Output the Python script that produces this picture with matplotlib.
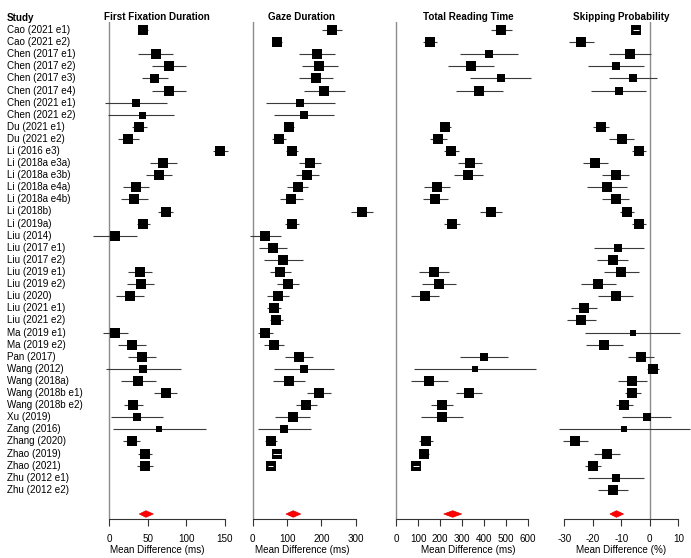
import numpy as np
import matplotlib
matplotlib.use("Agg")
import matplotlib.pyplot as plt
from matplotlib.patches import Polygon
from matplotlib.transforms import blended_transform_factory

nan = np.nan

studies = [
    "Cao (2021 e1)", "Cao (2021 e2)", "Chen (2017 e1)", "Chen (2017 e2)",
    "Chen (2017 e3)", "Chen (2017 e4)", "Chen (2021 e1)", "Chen (2021 e2)",
    "Du (2021 e1)", "Du (2021 e2)", "Li (2016 e3)", "Li (2018a e3a)",
    "Li (2018a e3b)", "Li (2018a e4a)", "Li (2018a e4b)", "Li (2018b)",
    "Li (2019a)", "Liu (2014)", "Liu (2017 e1)", "Liu (2017 e2)",
    "Liu (2019 e1)", "Liu (2019 e2)", "Liu (2020)", "Liu (2021 e1)",
    "Liu (2021 e2)", "Ma (2019 e1)", "Ma (2019 e2)", "Pan (2017)",
    "Wang (2012)", "Wang (2018a)", "Wang (2018b e1)", "Wang (2018b e2)",
    "Xu (2019)", "Zang (2016)", "Zhang (2020)", "Zhao (2019)",
    "Zhao (2021)", "Zhu (2012 e1)", "Zhu (2012 e2)",
]

# first fixation duration (ms)
ffd_est = [44.4, nan, 60.3, 77.2, 58.6, 77.2, 34.9, 42.2, 39.2, 25.0, 144.0, 70.3, 64.2,
           34.9, 32.8, 73.3, 44.4, 8.2, nan, nan, 40.1, 40.9, 27.2, nan, nan, 8.2, 29.3,
           43.1, 44.4, 37.9, 73.3, 31.5, 36.2, 65.1, 29.3, 46.1, 46.1, nan, nan]
ffd_lo = [38.0, nan, 37.9, 55.2, 42.2, 55.2, -5.2, -1.0, 30.2, 12.1, 135.0, 53.4, 47.4,
          18.5, 15.9, 63.8, 35.8, -20.3, nan, nan, 25.0, 23.7, 9.1, nan, nan, -8.2, 11.2,
          25.0, -3.9, 15.9, 58.2, 19.0, 3.0, 5.6, 18.1, 37.9, 35.8, nan, nan]
ffd_hi = [51.0, nan, 82.3, 99.1, 75.9, 99.1, 75.0, 84.5, 48.7, 38.8, 153.4, 87.5, 81.0,
          51.7, 50.0, 83.2, 53.4, 36.6, nan, nan, 55.2, 58.6, 45.3, nan, nan, 24.6, 47.4,
          61.2, 92.7, 60.3, 88.4, 43.5, 69.4, 125.0, 40.1, 55.2, 57.3, nan, nan]
ffd_wt = [0.82, nan, 0.82, 0.82, 0.75, 0.82, 0.32, 0.25, 0.9, 0.9, 0.9, 0.82, 0.9, 0.9,
          0.82, 0.9, 1.0, 0.82, nan, nan, 1.0, 1.0, 1.0, nan, nan, 1.0, 0.82, 0.9, 0.32,
          1.0, 1.0, 1.0, 0.58, 0.18, 1.0, 1.0, 1.0, nan, nan]
ffd_summary = (47.8, 39.2, 57.3)

# gaze duration (ms)
gd_est = [231, 70, 188, 194, 184, 208, 139, 148, 106, 77, 114, 166, 158, 131, 112, 318,
          114, 36, 58, 89, 80, 104, 74, 62, 68, 36, 62, 134, 148, 105, 192, 156, 116, 91,
          53, 71, 52, nan, nan]
gd_lo = [201, 55, 136, 143, 136, 148, 39, 62, 90, 56, 96, 135, 125, 101, 80, 287, 94, -8,
         17, 32, 50, 71, 43, 43, 49, 14, 34, 94, 62, 59, 159, 126, 65, 16, 37, 60, 45,
         nan, nan]
gd_hi = [261, 86, 241, 248, 233, 269, 240, 236, 121, 98, 131, 199, 193, 162, 146, 350,
         134, 82, 100, 147, 111, 136, 105, 82, 87, 60, 90, 175, 236, 151, 227, 187, 167,
         169, 72, 82, 60, nan, nan]
gd_wt = [0.82, 0.9, 0.82, 0.82, 0.82, 0.82, 0.42, 0.42, 0.9, 0.9, 0.9, 0.9, 0.9, 0.9,
         0.9, 0.9, 0.9, 0.82, 0.82, 0.82, 0.9, 0.9, 0.9, 0.9, 0.9, 0.9, 0.9, 0.9, 0.58,
         0.9, 0.9, 0.9, 0.9, 0.68, 0.9, 0.9, 0.82, nan, nan]
gd_summary = (118, 97, 140)

# total reading time (ms)
trt_est = [477, 153, 421, 340, 476, 378, nan, nan, 223, 191, 251, 336, 327, 185, 178, 430,
           254, nan, nan, nan, 173, 195, 131, nan, nan, nan, nan, 398, 357, 149, 331, 208,
           207, nan, 137, 126, 90, nan, nan]
trt_lo = [432, 123, 290, 237, 336, 272, nan, nan, 198, 153, 219, 283, 263, 126, 123, 383,
          219, nan, nan, nan, 105, 119, 65, nan, nan, nan, nan, 290, 81, 65, 272, 158, 111,
          nan, 105, 103, 77, nan, nan]
trt_hi = [526, 185, 553, 444, 614, 485, nan, nan, 250, 231, 286, 389, 397, 245, 234, 480,
          289, nan, nan, nan, 242, 271, 195, nan, nan, nan, nan, 508, 635, 234, 389, 260,
          305, nan, 169, 150, 104, nan, nan]
trt_wt = [0.9, 0.9, 0.68, 0.82, 0.68, 0.82, nan, nan, 0.9, 0.9, 0.9, 0.9, 0.9, 0.9, 0.9,
          0.9, 0.9, nan, nan, nan, 0.9, 0.9, 0.9, nan, nan, nan, nan, 0.68, 0.08, 0.9, 0.9,
          0.9, 0.82, nan, 0.9, 0.9, 0.82, nan, nan]
trt_summary = (257, 216, 298)

# skipping probability (%)
sp_est = [-4.9, -24.1, -6.9, -12.0, -6.0, -10.9, nan, nan, -17.0, -9.9, -3.9, -19.1, -11.9,
          -15.1, -11.9, -8.0, -3.9, nan, -11.0, -13.0, -10.1, -18.0, -12.0, -23.0, -24.1,
          -6.0, -16.0, -3.0, 1.1, -6.1, -6.1, -9.1, -0.9, -9.1, -26.1, -15.0, -20.0, -12.0,
          -13.0]
sp_lo = [-6.0, -28.3, -14.3, -21.8, -14.3, -20.7, nan, nan, -19.8, -14.3, -6.4, -23.5,
         -16.6, -22.0, -16.6, -10.3, -6.1, nan, -19.6, -18.4, -16.1, -24.2, -18.1, -27.6,
         -29.0, -22.7, -22.5, -7.5, -1.0, -11.0, -8.7, -11.8, -9.6, -31.8, -30.5, -19.4,
         -22.7, -21.8, -18.2]
sp_hi = [-3.8, -19.6, 0.5, -2.1, 2.5, -1.2, nan, nan, -14.2, -5.6, -1.3, -14.5, -7.3, -8.0,
         -7.3, -5.6, -1.4, nan, -2.1, -7.6, -3.7, -11.7, -5.8, -18.4, -18.9, 10.5, -9.5,
         1.5, 3.3, -0.9, -3.2, -6.0, 7.6, 14.0, -21.5, -10.5, -17.2, -2.1, -7.7]
sp_wt = [0.82, 0.9, 0.82, 0.58, 0.68, 0.58, nan, nan, 0.9, 0.9, 0.9, 0.9, 0.9, 0.9, 0.9,
         0.9, 0.9, nan, 0.68, 0.82, 0.82, 0.82, 0.82, 0.9, 0.9, 0.18, 0.82, 0.9, 1.1, 0.9,
         1.0, 0.9, 0.68, 0.0, 0.9, 0.9, 0.9, 0.68, 0.82]
sp_summary = (-11.7, -14.0, -9.2)

titles = ["First Fixation Duration", "Gaze Duration", "Total Reading Time",
          "Skipping Probability"]
xlabels = ["Mean Difference (ms)", "Mean Difference (ms)", "Mean Difference (ms)",
           "Mean Difference (%)"]
xticks = [[0, 50, 100, 150], [0, 100, 200, 300], [0, 100, 200, 300, 400, 500, 600],
          [-30, -20, -10, 0, 10]]

W, H, DPI = 691, 558, 100
FS = 7.1
plt.rcParams["font.family"] = ["Liberation Sans", "DejaVu Sans"]
plt.rcParams["font.size"] = FS

# axes extents in pixels and x limits (layout)
panel_px = [(84, 230), (230, 374), (388, 548), (552, 690)]
panel_xlim = [(-32.3, 156.5), (-66.1, 353.3), (-37.8, 691.1), (-34.3, 14.1)]
top_px, bottom_px = 22, 519
row0_px, row_step = 30, 12.1
ylim = ((bottom_px - row0_px) / row_step, (top_px - row0_px) / row_step)

fig = plt.figure(figsize=(W / DPI, H / DPI), dpi=DPI)


def forest(ax, est, lo, hi, wt, summ, ticks, title, xlabel, xlim):
    est, lo, hi, wt = (np.asarray(a, dtype=float) for a in (est, lo, hi, wt))
    ax.set_xlim(*xlim)
    ax.set_ylim(*ylim)
    rows = np.arange(len(est))
    px_per_unit = ax.transData.transform((1, 0))[0] - ax.transData.transform((0, 0))[0]
    ax.axvline(0, color="#8c8c8c", lw=1.0, zorder=1)
    for i in rows:
        if np.isnan(est[i]):
            continue
        size_px = 6 + 4 * wt[i]
        ax.plot([lo[i], hi[i]], [i, i], color="#3a3a3a", lw=0.8, zorder=2,
                solid_capstyle="butt", clip_on=False)
        ax.plot(est[i], i, "s", ms=size_px * 72 / DPI, color="black", mew=0,
                zorder=3, clip_on=False)
        hw = size_px / 2 / px_per_unit
        if est[i] - lo[i] < hw and hi[i] - est[i] < hw:
            ax.plot([lo[i], hi[i]], [i, i], color="white", lw=0.7, zorder=4,
                    solid_capstyle="butt")
    m, l, h = summ
    yr = len(est) + 1
    dh = 0.27
    ax.add_patch(Polygon([(l, yr), (m, yr - dh), (h, yr), (m, yr + dh)],
                         closed=True, facecolor="#ff0000", edgecolor="#e00000",
                         lw=0.5, zorder=3))
    for s in ("top", "right", "left"):
        ax.spines[s].set_visible(False)
    ax.spines["bottom"].set_bounds(ticks[0], ticks[-1])
    ax.spines["bottom"].set_color("#333333")
    ax.spines["bottom"].set_linewidth(0.8)
    ax.set_xticks(ticks)
    ax.set_xticklabels([str(t) for t in ticks])
    ax.set_yticks([])
    ax.tick_params(axis="x", direction="out", length=5, width=0.8, color="#333333",
                   labelsize=FS, pad=5.5)
    ax.set_title(title, fontsize=FS, fontweight="bold", pad=1.2)
    ax.set_xlabel(xlabel, fontsize=FS, labelpad=1.2)
    ax.patch.set_alpha(0)


panels = [
    (ffd_est, ffd_lo, ffd_hi, ffd_wt, ffd_summary),
    (gd_est, gd_lo, gd_hi, gd_wt, gd_summary),
    (trt_est, trt_lo, trt_hi, trt_wt, trt_summary),
    (sp_est, sp_lo, sp_hi, sp_wt, sp_summary),
]

axes = []
for k, (est, lo, hi, wt, summ) in enumerate(panels):
    l_px, r_px = panel_px[k]
    ax = fig.add_axes([l_px / W, 1 - bottom_px / H, (r_px - l_px) / W,
                       (bottom_px - top_px) / H])
    forest(ax, est, lo, hi, wt, summ, xticks[k], titles[k], xlabels[k], panel_xlim[k])
    axes.append(ax)

# study labels
trans = blended_transform_factory(fig.transFigure, axes[0].transData)
for i, name in enumerate(studies):
    axes[0].text(7 / W, i, name, transform=trans, ha="left", va="center", fontsize=FS,
                 clip_on=False)
fig.text(7 / W, 1 - 21 / H, "Study", ha="left", va="baseline", fontsize=FS,
         fontweight="bold")

fig.savefig("out.png", dpi=DPI)
